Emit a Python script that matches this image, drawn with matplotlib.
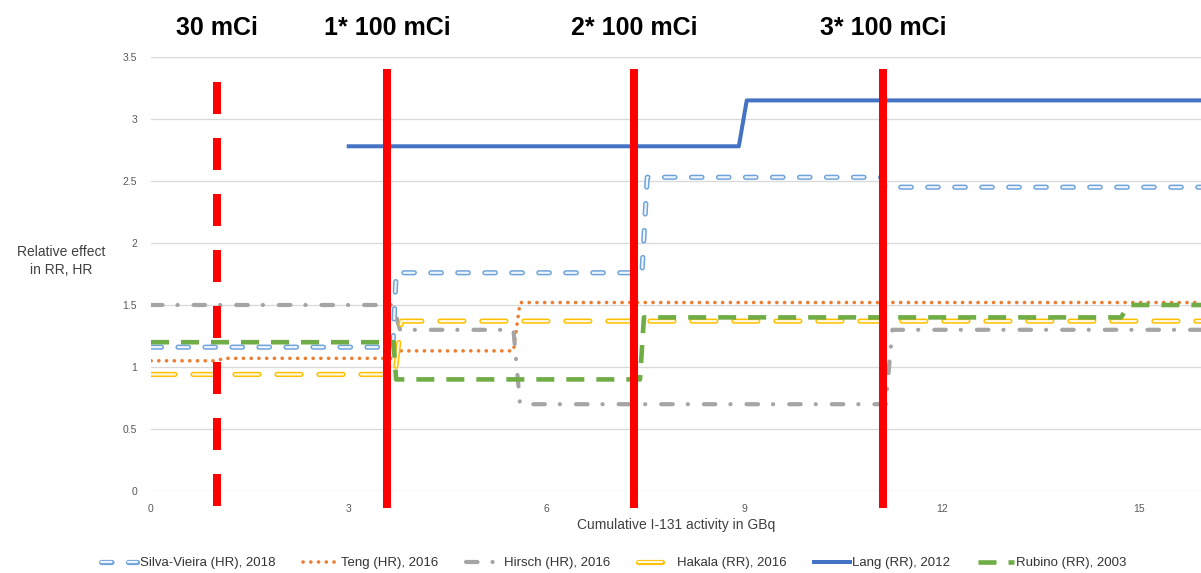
import matplotlib.pyplot as plt

plt.rcParams['font.family'] = ['Liberation Sans', 'DejaVu Sans']
plt.rcParams['lines.scale_dashes'] = False

# cumulative activity (GBq) and effect size for each study, drawn as step lines
silva_x = [0, 3.67, 3.72, 7.45, 7.53, 11.08, 11.14, 16]
silva_y = [1.16, 1.16, 1.76, 1.76, 2.53, 2.53, 2.45, 2.45]

teng_x = [0, 1.0, 1.1, 3.67, 3.72, 5.5, 5.6, 16]
teng_y = [1.05, 1.05, 1.07, 1.07, 1.13, 1.13, 1.52, 1.52]

hirsch_x = [0, 3.67, 3.78, 5.5, 5.6, 11.15, 11.25, 16]
hirsch_y = [1.5, 1.5, 1.3, 1.3, 0.7, 0.7, 1.3, 1.3]

hakala_x = [0, 3.7, 3.8, 16]
hakala_y = [0.94, 0.94, 1.37, 1.37]

lang_x = [3.0, 8.92, 9.04, 16]
lang_y = [2.78, 2.78, 3.15, 3.15]

rubino_x = [0, 3.68, 3.72, 7.42, 7.48, 14.72, 14.84, 16]
rubino_y = [1.2, 1.2, 0.9, 0.9, 1.4, 1.4, 1.5, 1.5]

labels = ["Silva-Vieira (HR), 2018", "Teng (HR), 2016", "Hirsch (HR), 2016",
          "Hakala (RR), 2016", "Lang (RR), 2012", "Rubino (RR), 2003"]

# administered doses marked with red lines
dose_gbq = [1.0, 3.58, 7.33, 11.11]
dose_labels = ["30 mCi", "1* 100 mCi", "2* 100 mCi", "3* 100 mCi"]

x_ticks = [0, 3, 6, 9, 12, 15]
y_ticks = [0, 0.5, 1, 1.5, 2, 2.5, 3, 3.5]

PX = 0.72  # one pixel in points at dpi 100

fig = plt.figure(figsize=(12.01, 5.73), dpi=100)
ax = fig.add_axes([151 / 1201, 82 / 573, 1050 / 1201, 434 / 573])
ax.set_xlim(0, 1050 / 65.9)
ax.set_ylim(0, 3.5)


def hollow(x, y, edge, face, lw, dash, gap):
    kw = dict(dashes=(dash * PX, gap * PX), dash_capstyle='round', solid_capstyle='round')
    outer, = ax.plot(x, y, color=edge, lw=lw * PX, zorder=3, **kw)
    inner, = ax.plot(x, y, color=face, lw=(lw - 3.0) * PX, zorder=3.1, **kw)
    return (outer, inner)


h_silva = hollow(silva_x, silva_y, '#6FA3DB', '#EEF5FC', 5.2, 10.5, 16.5)
h_teng, = ax.plot(teng_x, teng_y, color='#ED7D31', lw=3.6 * PX,
                  dashes=(0.1, 7.6 * PX), dash_capstyle='round', zorder=3)
h_hirsch, = ax.plot(hirsch_x, hirsch_y, color='#A5A5A5', lw=4.2 * PX,
                    dashes=(11.5 * PX, 15 * PX, 0.1, 16 * PX),
                    dash_capstyle='round', zorder=3)
h_hakala = hollow(hakala_x, hakala_y, '#FFC000', '#FFF8E1', 5.2, 24, 18)
h_lang, = ax.plot(lang_x, lang_y, color='#4472C4', lw=4.0 * PX, zorder=3)
h_rubino, = ax.plot(rubino_x, rubino_y, color='#70AD47', lw=4.6 * PX,
                    dashes=(18 * PX, 12 * PX), dash_capstyle='butt', zorder=3.2)

# red dose markers, drawn top to bottom so the dash pattern starts at the top
for i, (x, lab) in enumerate(zip(dose_gbq, dose_labels)):
    if i == 0:
        ax.plot([x, x], [3.30, -0.12], color='#FF0000', lw=8 * PX,
                dashes=(32 * PX, 24 * PX), dash_capstyle='butt',
                clip_on=False, zorder=6)
    else:
        ax.plot([x, x], [3.40, -0.137], color='#FF0000', lw=8 * PX,
                solid_capstyle='butt', clip_on=False, zorder=6)
    xf = (151 + x * 65.9) / 1201
    fig.text(xf, 1 - 35 / 573, lab, ha='center', va='baseline',
             fontsize=18, fontweight='bold', color='black')

ax.set_xticks(x_ticks)
ax.set_yticks(y_ticks)
ax.set_yticklabels(['0', '0.5', '1', '1.5', '2', '2.5', '3', '3.5'])
ax.tick_params(axis='both', length=0, labelsize=7.5, labelcolor='#595959')
ax.tick_params(axis='x', pad=9)
ax.tick_params(axis='y', pad=10)
ax.grid(axis='y', color='#D9D9D9', lw=1.3 * PX, zorder=0)
ax.set_axisbelow(True)
for s in ax.spines.values():
    s.set_visible(False)

ax.set_xlabel("Cumulative I-131 activity in GBq", fontsize=10, color='#404040', va='center')
ax.xaxis.set_label_coords(0.5, -34 / 434)
ax.set_ylabel("Relative effect\nin RR, HR", fontsize=10, color='#404040',
              rotation=0, ha='center', va='center', linespacing=1.3)
ax.yaxis.set_label_coords(-90 / 1050, 230 / 434)

handles = [h_silva, h_teng, h_hirsch, h_hakala, h_lang, h_rubino]
fig.legend(handles, labels, loc='center', bbox_to_anchor=(614 / 1201, 10 / 573),
           ncol=6, frameon=False, fontsize=9.5, handlelength=2.7,
           handletextpad=0.2, columnspacing=2.1, labelcolor='#333333')

fig.savefig('out.png', dpi=100)
